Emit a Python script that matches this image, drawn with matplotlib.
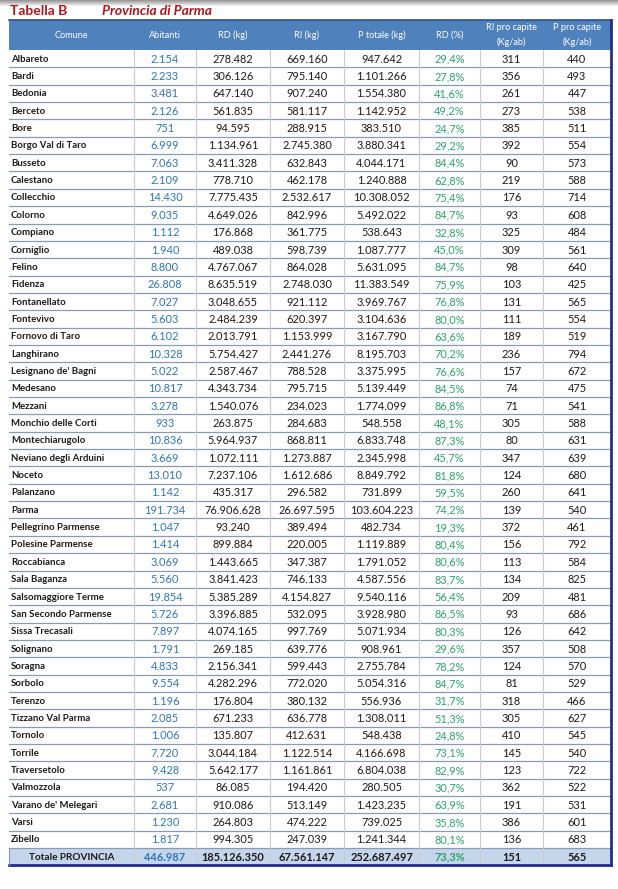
#!/usr/bin/env python3

"""Tabella B - rifiuti urbani per comune, Provincia di Parma."""

import numpy as np
import matplotlib
matplotlib.use("Agg")
import matplotlib.pyplot as plt
from matplotlib.patches import Rectangle

comuni = ["Albareto", "Bardi", "Bedonia", "Berceto", "Bore", "Borgo Val di Taro",
          "Busseto", "Calestano", "Collecchio", "Colorno", "Compiano", "Corniglio",
          "Felino", "Fidenza", "Fontanellato", "Fontevivo", "Fornovo di Taro",
          "Langhirano", "Lesignano de' Bagni", "Medesano", "Mezzani",
          "Monchio delle Corti", "Montechiarugolo", "Neviano degli Arduini",
          "Noceto", "Palanzano", "Parma", "Pellegrino Parmense", "Polesine Parmense",
          "Roccabianca", "Sala Baganza", "Salsomaggiore Terme",
          "San Secondo Parmense", "Sissa Trecasali", "Solignano", "Soragna",
          "Sorbolo", "Terenzo", "Tizzano Val Parma", "Tornolo", "Torrile",
          "Traversetolo", "Valmozzola", "Varano de' Melegari", "Varsi", "Zibello"]
abitanti = [2154, 2233, 3481, 2126, 751, 6999, 7063, 2109, 14430, 9035, 1112, 1940,
            8800, 26808, 7027, 5603, 6102, 10328, 5022, 10817, 3278, 933, 10836,
            3669, 13010, 1142, 191734, 1047, 1414, 3069, 5560, 19854, 5726, 7897,
            1791, 4833, 9554, 1196, 2085, 1006, 7720, 9428, 537, 2681, 1230, 1817]
rd_kg = [278482, 306126, 647140, 561835, 94595, 1134961, 3411328, 778710, 7775435,
         4649026, 176868, 489038, 4767067, 8635519, 3048655, 2484239, 2013791,
         5754427, 2587467, 4343734, 1540076, 263875, 5964937, 1072111, 7237106,
         435317, 76906628, 93240, 899884, 1443665, 3841423, 5385289, 3396885,
         4074165, 269185, 2156341, 4282296, 176804, 671233, 135807, 3044184,
         5642177, 86085, 910086, 264803, 994305]
ri_kg = [669160, 795140, 907240, 581117, 288915, 2745380, 632843, 462178, 2532617,
         842996, 361775, 598739, 864028, 2748030, 921112, 620397, 1153999, 2441276,
         788528, 795715, 234023, 284683, 868811, 1273887, 1612686, 296582, 26697595,
         389494, 220005, 347387, 746133, 4154827, 532095, 997769, 639776, 599443,
         772020, 380132, 636778, 412631, 1122514, 1161861, 194420, 513149, 474222,
         247039]
p_totale = [947642, 1101266, 1554380, 1142952, 383510, 3880341, 4044171, 1240888,
            10308052, 5492022, 538643, 1087777, 5631095, 11383549, 3969767, 3104636,
            3167790, 8195703, 3375995, 5139449, 1774099, 548558, 6833748, 2345998,
            8849792, 731899, 103604223, 482734, 1119889, 1791052, 4587556, 9540116,
            3928980, 5071934, 908961, 2755784, 5054316, 556936, 1308011, 548438,
            4166698, 6804038, 280505, 1423235, 739025, 1241344]
rd_perc = [29.4, 27.8, 41.6, 49.2, 24.7, 29.2, 84.4, 62.8, 75.4, 84.7, 32.8, 45.0,
           84.7, 75.9, 76.8, 80.0, 63.6, 70.2, 76.6, 84.5, 86.8, 48.1, 87.3, 45.7,
           81.8, 59.5, 74.2, 19.3, 80.4, 80.6, 83.7, 56.4, 86.5, 80.3, 29.6, 78.2,
           84.7, 31.7, 51.3, 24.8, 73.1, 82.9, 30.7, 63.9, 35.8, 80.1]
ri_pro_capite = [311, 356, 261, 273, 385, 392, 90, 219, 176, 93, 325, 309, 98, 103,
                 131, 111, 189, 236, 157, 74, 71, 305, 80, 347, 124, 260, 139, 372,
                 156, 113, 134, 209, 93, 126, 357, 124, 81, 318, 305, 410, 145, 123,
                 362, 191, 386, 136]
p_pro_capite = [440, 493, 447, 538, 511, 554, 573, 588, 714, 608, 484, 561, 640, 425,
                565, 554, 519, 794, 672, 475, 541, 588, 631, 639, 680, 641, 540, 461,
                792, 584, 825, 481, 686, 642, 508, 570, 529, 466, 627, 545, 540, 722,
                522, 531, 601, 683]
totale = ["Totale PROVINCIA", 446987, 185126350, 67561147, 252687497, 73.3, 151, 565]

headers = ["Comune", "Abitanti", "RD (kg)", "RI (kg)", "P totale (kg)", "RD (%)",
           "RI pro capite\n(Kg/ab)", "P pro capite\n(Kg/ab)"]

plt.rcParams['font.family'] = ['Lato', 'DejaVu Sans']


def num(v):
    return f"{v:,}".replace(",", ".")


def perc(v):
    return f"{v:.1f}".replace(".", ",") + "%"


W, H = 618, 889
fig = plt.figure(figsize=(W / 100, H / 100), dpi=100)
ax = fig.add_axes([0, 0, 1, 1])
ax.set_xlim(0, W)
ax.set_ylim(H, 0)
ax.axis("off")

# grey shadow strip at the very top
grad = np.linspace(0.6, 1.0, 7).reshape(-1, 1)
ax.imshow(np.repeat(grad, 2, axis=1), cmap="gray", vmin=0, vmax=1, aspect="auto",
          extent=(0, W, 7, 0), zorder=0)

ax.text(10, 11, "Tabella B", color="#B0161E", fontsize=10, fontweight="bold",
        va="center", ha="left")
ax.text(102, 11, "Provincia di Parma", color="#B0161E", fontsize=10,
        fontweight="bold", style="italic", va="center", ha="left")

left, right = 9, 611
col_edges = [left, 134, 196, 270, 344, 419, 480, 543, right]
head_top, head_bot = 20, 50
row_h = 17.35
n = len(comuni)

# header
ax.add_patch(Rectangle((left, head_top), right - left, head_bot - head_top,
                       facecolor="#4F81BD", edgecolor="none", zorder=1))
ax.plot([left, right], [head_top, head_top], color="#2F4F8F", lw=1.2, zorder=3)
for i, h in enumerate(headers):
    cx = (col_edges[i] + col_edges[i + 1]) / 2
    ax.text(cx, (head_top + head_bot) / 2, h, color="white", fontsize=6.6,
            ha="center", va="center", linespacing=1.6, zorder=4)

rows = [[comuni[i], abitanti[i], rd_kg[i], ri_kg[i], p_totale[i], rd_perc[i],
         ri_pro_capite[i], p_pro_capite[i]] for i in range(n)]
rows.append(totale)

for r, row in enumerate(rows):
    y0 = head_bot + r * row_h
    yc = y0 + row_h / 2 + 0.5
    is_tot = r == n
    if is_tot:
        ax.add_patch(Rectangle((left, y0), right - left, row_h,
                               facecolor="#C5D5EA", edgecolor="none", zorder=1))
    for c, v in enumerate(row):
        cx = (col_edges[c] + col_edges[c + 1]) / 2
        color = "#1A1A1A"
        weight = "bold" if (c == 0 or is_tot) else "normal"
        if c == 0:
            txt = v
        elif c == 5:
            txt = perc(v)
            color = "#2BA36B"
        else:
            txt = num(v)
            if c == 1:
                color = "#2E75B6"
        if c == 0 and not is_tot:
            ax.text(left + 2, yc, txt, fontsize=6.9, fontweight=weight, color=color,
                    ha="left", va="center", zorder=4)
        elif c == 0:
            ax.text(cx, yc, txt, fontsize=7.2, fontweight=weight, color=color,
                    ha="center", va="center", zorder=4)
        else:
            ax.text(cx, yc, txt, fontsize=7.9, fontweight=weight, color=color,
                    ha="center", va="center", zorder=4)
    # horizontal separator below row
    ax.plot([left, right], [y0 + row_h, y0 + row_h], color="#8A9AB5", lw=0.9,
            zorder=2)

table_bot = head_bot + (n + 1) * row_h
for x in col_edges[1:-1]:
    ax.plot([x, x], [head_bot, table_bot], color="#C8CCD2", lw=0.8, zorder=2)

# dark blue outer border (right and bottom)
ax.plot([right, right], [head_top, table_bot], color="#1F2F8F", lw=2, zorder=5)
ax.plot([left, right], [table_bot, table_bot], color="#1F2F8F", lw=2, zorder=5)
ax.plot([left, left], [head_bot + n * row_h, table_bot], color="#8A9AB5", lw=0.8,
        zorder=5)

fig.savefig("out.png", dpi=100)
